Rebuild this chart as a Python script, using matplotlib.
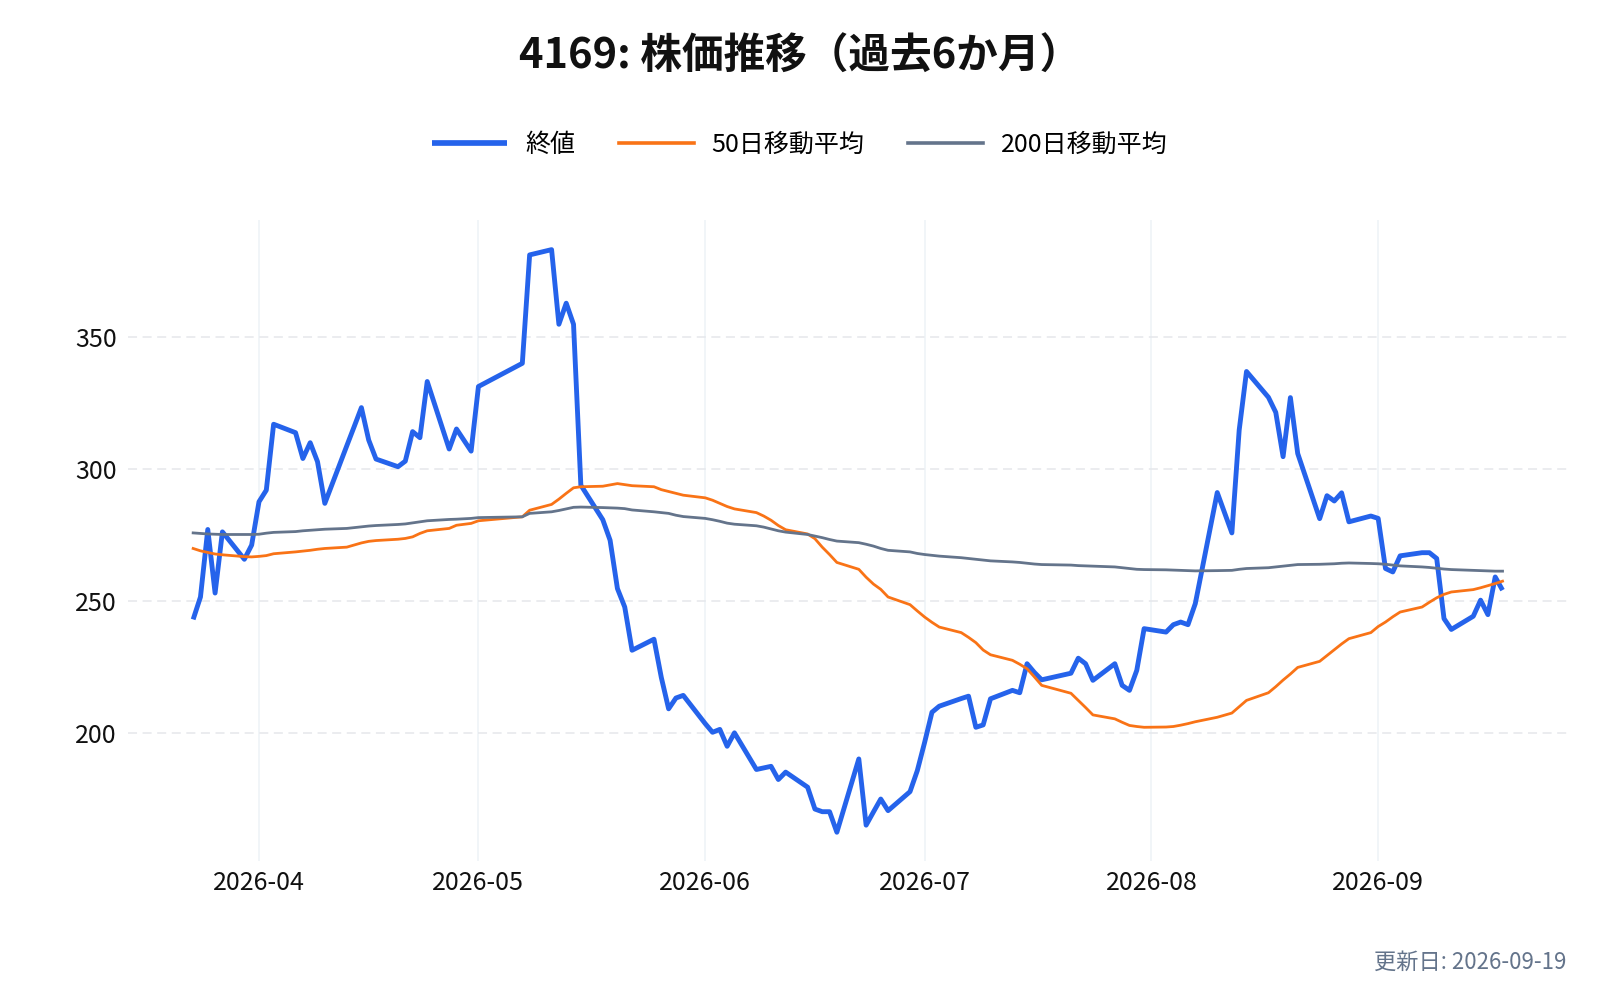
import matplotlib
matplotlib.use("Agg")
import matplotlib.pyplot as plt
import matplotlib.dates as mdates
import pandas as pd

plt.rcParams['font.family'] = ['Noto Sans CJK JP', 'DejaVu Sans']
plt.rcParams['lines.scale_dashes'] = False

title = "4169: 株価推移（過去6か月）"
footer = "更新日: 2026-09-19"
series_names = ["終値", "50日移動平均", "200日移動平均"]
holidays = ["2026-04-29", "2026-05-04", "2026-05-05", "2026-05-06", "2026-07-20", "2026-08-11"]
dates = pd.bdate_range("2026-03-23", "2026-09-18")
dates = dates[~dates.isin(pd.to_datetime(holidays))]

close = [
    243.0, 251.5, 277.1, 253.0, 276.2, 265.8, 271.2,
    287.6, 292.0, 317.0, 313.8, 304.0, 310.0, 302.8, 287.0, 308.8, 316.0, 323.3,
    311.0, 303.8, 300.9, 303.0, 314.2, 311.9, 333.2, 307.6, 315.2, 306.8,
    331.3, 340.1, 381.2, 383.2, 354.9, 362.9, 354.9, 293.9, 280.8, 273.0, 254.7,
    247.7, 231.3, 235.5, 221.0, 209.1, 213.2, 214.2,
    203.5, 200.2, 201.3, 194.9, 200.0, 186.1, 186.7, 187.3, 182.3, 185.1, 179.4,
    171.1, 170.1, 170.1, 162.3, 190.1, 165.0, 170.0, 174.9, 170.5, 177.7, 185.7,
    196.4, 207.8, 210.1, 213.0, 213.9, 202.1, 203.0, 212.9, 216.1, 215.2, 226.2,
    222.9, 220.1, 222.6, 228.3, 226.2, 219.9, 226.2, 218.0, 216.1, 223.7, 239.5,
    238.2, 241.0, 242.0, 241.0, 249.0, 291.1, 275.8, 314.8, 337.0, 327.2, 321.5,
    304.7, 327.1, 305.9, 281.2, 289.9, 287.9, 291.0, 280.0, 282.2,
    281.3, 262.3, 261.0, 267.1, 268.3, 268.3, 266.1, 243.3, 239.2, 244.2, 250.3,
    244.8, 259.1, 254.1,
]
ma50 = [
    269.9, 269.0, 268.4, 267.8, 267.5, 266.8, 266.7,
    266.9, 267.2, 267.9, 268.6, 268.9, 269.2, 269.6, 269.9, 270.4, 271.2, 272.0,
    272.6, 272.9, 273.4, 273.7, 274.3, 275.6, 276.6, 277.5, 278.7, 279.4,
    280.4, 281.9, 284.4, 286.6, 288.6, 290.8, 292.9, 293.3, 293.5, 294.0, 294.5,
    294.1, 293.7, 293.3, 292.2, 291.5, 290.8, 290.1,
    289.1, 288.2, 287.0, 285.8, 284.9, 283.5, 282.2, 280.6, 278.6, 277.0, 275.4,
    273.6, 270.4, 267.6, 264.6, 262.0, 259.0, 256.4, 254.4, 251.5, 248.6, 246.2,
    243.9, 241.9, 240.1, 238.0, 236.2, 234.2, 231.4, 229.6, 227.5, 226.0, 224.3,
    221.2, 218.0, 215.0, 212.3, 209.6, 206.8, 205.3, 204.0, 202.8, 202.4, 202.1,
    202.2, 202.4, 202.9, 203.5, 204.2, 205.9, 207.5, 209.9, 212.3, 215.2, 217.5,
    220.0, 222.3, 224.8, 227.1, 229.3, 231.5, 233.7, 235.7, 238.0,
    240.3, 242.0, 244.0, 245.8, 247.7, 249.5, 251.2, 252.5, 253.4, 254.3, 255.0,
    255.8, 256.6, 257.5,
]
ma200 = [
    275.8, 275.6, 275.4, 275.3, 275.2, 275.2, 275.2,
    275.3, 275.7, 276.0, 276.3, 276.6, 276.8, 277.0, 277.2, 277.5, 277.8, 278.1,
    278.4, 278.6, 279.0, 279.2, 279.6, 280.0, 280.4, 280.9, 281.0, 281.3,
    281.6, 281.9, 283.2, 283.8, 284.3, 284.9, 285.5, 285.6, 285.4, 285.3, 285.2,
    285.0, 284.5, 283.8, 283.5, 283.2, 282.5, 282.0,
    281.3, 280.8, 280.2, 279.5, 279.1, 278.5, 278.0, 277.3, 276.6, 276.1, 275.2,
    274.6, 274.0, 273.3, 272.7, 272.1, 271.5, 270.8, 269.9, 269.2, 268.6, 268.0,
    267.6, 267.3, 267.0, 266.4, 266.1, 265.8, 265.5, 265.2, 264.8, 264.6, 264.3,
    264.0, 263.8, 263.6, 263.4, 263.3, 263.2, 262.9, 262.6, 262.3, 262.0, 261.9,
    261.8, 261.7, 261.6, 261.5, 261.4, 261.5, 261.6, 262.0, 262.3, 262.6, 262.9,
    263.2, 263.5, 263.8, 263.9, 264.0, 264.1, 264.3, 264.4, 264.2,
    264.1, 263.9, 263.6, 263.3, 262.9, 262.7, 262.4, 262.1, 261.9, 261.6, 261.5,
    261.4, 261.3, 261.3,
]
y_ticks = [200, 250, 300, 350]

fig = plt.figure(figsize=(16, 10), dpi=100)
ax = fig.add_axes([0.0798, 0.1386, 0.9002, 0.6409])

ax.plot(dates, close, color="#2563eb", lw=3.5, label=series_names[0],
        solid_joinstyle="round", solid_capstyle="butt", zorder=3)
ax.plot(dates, ma50, color="#f97316", lw=2.0, label=series_names[1],
        solid_joinstyle="round", zorder=4)
ax.plot(dates, ma200, color="#64748b", lw=2.0, label=series_names[2],
        solid_joinstyle="round", zorder=5)

ax.margins(x=0.05, y=0.05)
ax.set_yticks(y_ticks)
ax.xaxis.set_major_locator(mdates.MonthLocator())
ax.xaxis.set_major_formatter(mdates.DateFormatter("%Y-%m"))
ax.grid(axis="y", color="#e5e7eb", lw=1.1, linestyle=(0, (6.5, 4.0)))
ax.grid(axis="x", color="#eef2f7", lw=1.1, linestyle="-")
ax.set_axisbelow(True)
for s in ax.spines.values():
    s.set_visible(False)
ax.tick_params(axis="both", length=0, labelsize=18, colors="#111111")
ax.tick_params(axis="y", pad=8)
ax.tick_params(axis="x", pad=6)

fig.text(0.5, 0.943, title, ha="center", va="center", fontsize=30, fontweight="bold",
         color="#111111")
leg = fig.legend(loc="center", bbox_to_anchor=(0.5, 0.855), ncol=3, frameon=False,
                 fontsize=18, handlelength=3.0, handletextpad=0.72, columnspacing=1.75)
for line in leg.get_lines():
    line.set_linewidth(line.get_linewidth() + 0.6)
fig.text(0.979, 0.038, footer, ha="right", va="center", fontsize=16, color="#64748b")

fig.savefig("out.png", dpi=100, facecolor="white")
